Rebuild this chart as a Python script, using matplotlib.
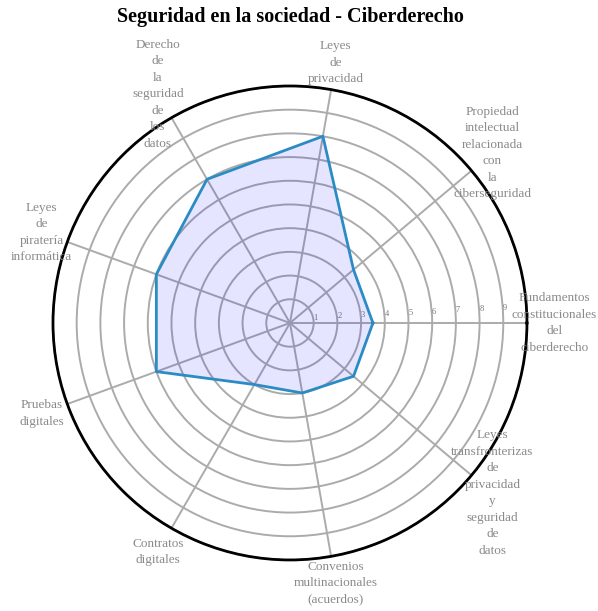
import numpy as np
import matplotlib
matplotlib.use("Agg")
import matplotlib.pyplot as plt

# Data
CATEGORIES = [
    "Fundamentos\nconstitucionales\ndel\nciberderecho",
    "Propiedad\nintelectual\nrelacionada\ncon\nla\nciberseguridad",
    "Leyes\nde\nprivacidad",
    "Derecho\nde\nla\nseguridad\nde\nlos\ndatos",
    "Leyes\nde\npiratería\ninformática",
    "Pruebas\ndigitales",
    "Contratos\ndigitales",
    "Convenios\nmultinacionales\n(acuerdos)",
    "Leyes\ntransfronterizas\nde\nprivacidad\ny\nseguridad\nde\ndatos",
]
VALUES = [3.5, 3.5, 8, 7, 6, 6, 3, 3, 3.5]
R_TICKS = [1, 2, 3, 4, 5, 6, 7, 8, 9, 10]
R_TICK_LABELS = ["1", "2", "3", "4", "5", "6", "7", "8", "9", ""]
TITLE = "Seguridad en la sociedad - Ciberderecho"

plt.rcParams['font.family'] = ['Liberation Serif', 'DejaVu Serif']

n = len(CATEGORIES)
angles = np.linspace(0, 2 * np.pi, n, endpoint=False)
closed_angles = np.concatenate([angles, angles[:1]])
closed_vals = np.concatenate([VALUES, VALUES[:1]])

fig = plt.figure(figsize=(5.98, 6.11), dpi=100)
ax = fig.add_axes([0.0886, 0.0835, 0.7926, 0.7758], polar=True)

ax.fill(closed_angles, closed_vals, color='blue', alpha=0.1, zorder=2)
ax.plot(closed_angles, closed_vals, color='#2b8cc4', linewidth=2, zorder=3)

ax.set_ylim(0, 10)
ax.set_yticks(R_TICKS)
ax.set_yticklabels(R_TICK_LABELS, fontsize=6, color='#777777')
ax.set_rlabel_position(3)

ax.set_xticks(angles)
ax.set_xticklabels([])
ax.grid(True, color='#ababab', linewidth=1.4)
ax.spines['polar'].set_color('black')
ax.spines['polar'].set_linewidth(2)

# category labels, centred just outside the outer ring
for ang, lab in zip(angles, CATEGORIES):
    ax.text(ang, 11.15, lab, ha='center', va='center', fontsize=9.5,
            color='#8a8a8a', linespacing=1.5, clip_on=False)

fig.text(0.485, 0.972, TITLE, ha='center', va='center',
         fontsize=14.5, fontweight='bold')

fig.savefig("out.png", dpi=100)
